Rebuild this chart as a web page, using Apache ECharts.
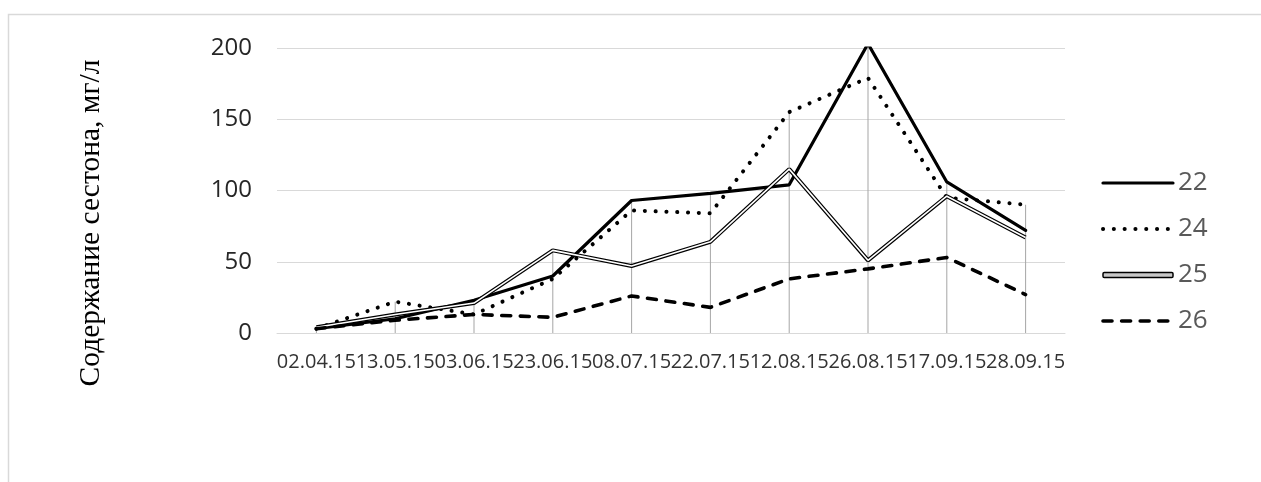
<!DOCTYPE html>
<html>
<head>
<meta charset="utf-8">
<script src="https://cdn.jsdelivr.net/npm/echarts@6/dist/echarts.min.js"></script>
<style>
html,body{margin:0;padding:0;background:#fff;}
#chart{width:1261px;height:482px;}
</style>
</head>
<body>
<div id="chart"></div>
<script>
var categories = ['02.04.15','13.05.15','03.06.15','23.06.15','08.07.15','22.07.15','12.08.15','26.08.15','17.09.15','28.09.15'];
var s22 = [3, 10, 23, 40, 93, 98, 104, 203, 106, 72];
var s24 = [3, 22, 13, 38, 86, 84, 155, 179, 95, 90];
var s25 = [4, 13, 21, 58, 47, 64, 115, 51, 96, 67];
var s26 = [3, 9, 13, 11, 26, 18, 38, 45, 53, 27];
var yTicks = [0, 50, 100, 150, 200];
var yTitle = 'Содержание сестона, мг/л';

var dropLines = categories.map(function (c, i) {
  return Math.max(s22[i], s24[i], s25[i], s26[i]);
});

var st22 = {color: '#000', width: 3.2, type: 'solid', cap: 'round'};
var st24 = {color: '#000', width: 4, type: [0.1, 10.7], cap: 'round'};
var st25 = {color: '#000', width: 4};
var st26 = {color: '#000', width: 3.6, type: [9, 9.6], cap: 'round'};
var noSym = {color: '#000', opacity: 0};

var chart = echarts.init(document.getElementById('chart'));
chart.setOption({
  animation: false,
  backgroundColor: '#fff',
  grid: {left: 277, top: 48, width: 788, height: 285},
  xAxis: {
    type: 'category',
    data: categories,
    boundaryGap: true,
    axisLine: {lineStyle: {color: '#d9d9d9', width: 1}},
    axisTick: {show: false},
    axisLabel: {interval: 0, margin: 19, fontFamily: 'Open Sans', fontSize: 20, color: '#333'}
  },
  yAxis: {
    type: 'value',
    min: yTicks[0],
    max: yTicks[yTicks.length - 1],
    interval: 50,
    axisLine: {show: false},
    axisTick: {show: false},
    splitLine: {lineStyle: {color: '#d9d9d9', width: 1}},
    axisLabel: {margin: 25, fontFamily: 'Open Sans', fontSize: 24, color: '#262626'}
  },
  legend: {
    orient: 'vertical',
    left: 1096,
    top: 165,
    itemWidth: 70,
    itemHeight: 5,
    itemGap: 20,
    textStyle: {fontFamily: 'Open Sans', fontSize: 26, color: '#595959'},
    data: [
      {name: '22', lineStyle: st22, itemStyle: noSym},
      {name: '24', lineStyle: st24, itemStyle: noSym},
      {name: '25', icon: 'roundRect', itemStyle: {color: '#c8c8c8', borderColor: '#000', borderWidth: 1.5}},
      {name: '26', lineStyle: st26, itemStyle: noSym}
    ]
  },
  graphic: [
    {type: 'rect', silent: true, shape: {x: 8.5, y: 14.5, width: 1400, height: 600}, style: {fill: 'none', stroke: '#d9d9d9', lineWidth: 1.5}},
    {type: 'text', silent: true, x: 91, y: 223, rotation: Math.PI / 2,
     style: {text: yTitle, fontFamily: 'Liberation Serif', fontSize: 29.5, fill: '#000', align: 'center', verticalAlign: 'middle'}}
  ],
  series: [
    {type: 'bar', name: 'drop', data: dropLines, barWidth: 1, itemStyle: {color: '#a6a6a6'}, silent: true, z: 1},
    {type: 'line', name: '22', data: s22, symbol: 'none', itemStyle: {color: '#000'}, lineStyle: st22, z: 3},
    {type: 'line', name: '24', data: s24, symbol: 'none', itemStyle: {color: '#000'}, lineStyle: st24, z: 3},
    {type: 'line', name: '25', data: s25, symbol: 'none', itemStyle: {color: '#000'}, lineStyle: st25, z: 3},
    {type: 'line', name: '25in', data: s25, symbol: 'none', itemStyle: {color: '#fff'}, lineStyle: {color: '#fff', width: 1.6}, z: 4},
    {type: 'line', name: '26', data: s26, symbol: 'none', itemStyle: {color: '#000'}, lineStyle: st26, z: 5}
  ]
});
</script>
</body>
</html>
